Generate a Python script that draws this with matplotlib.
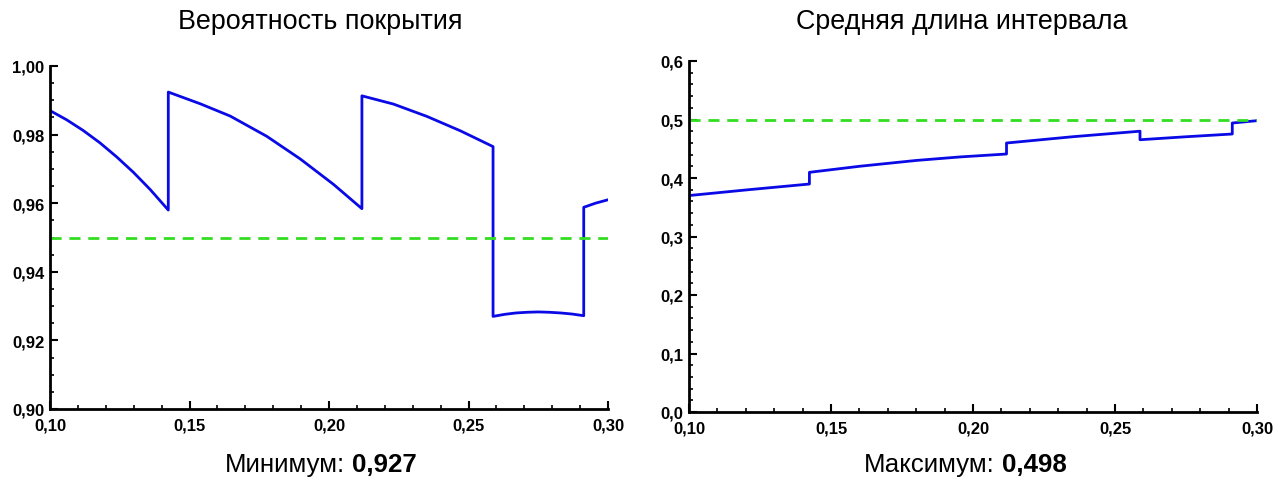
import matplotlib.pyplot as plt
from matplotlib.ticker import MultipleLocator, FuncFormatter

plt.rcParams['font.family'] = ['Liberation Sans', 'DejaVu Sans']

# coverage probability, piecewise between jumps
cov_x = [0.100, 0.1060, 0.1119, 0.1179, 0.1239, 0.1299, 0.1359, 0.1424,
         0.1424, 0.1538, 0.1646, 0.1777, 0.1897, 0.2016, 0.2118,
         0.2118, 0.2231, 0.2351, 0.2471, 0.2588,
         0.2588, 0.2630, 0.2670, 0.2710, 0.2750, 0.2790, 0.2830, 0.2870,
         0.2913,
         0.2913, 0.2955, 0.300]
cov_y = [0.9870, 0.9843, 0.9812, 0.9776, 0.9735, 0.9690, 0.9640, 0.9580,
         0.9924, 0.9890, 0.9854, 0.9795, 0.9729, 0.9655, 0.9584,
         0.9913, 0.9889, 0.9853, 0.9811, 0.9765,
         0.9270, 0.9276, 0.9280, 0.9282, 0.9283, 0.9282, 0.9280, 0.9277,
         0.9272,
         0.9588, 0.9600, 0.9610]

# mean interval length
len_x = [0.100, 0.121, 0.1424,
         0.1424, 0.160, 0.180, 0.1954, 0.2118,
         0.2118, 0.235, 0.2588,
         0.2588, 0.275, 0.2913,
         0.2913, 0.300]
len_y = [0.370, 0.380, 0.3897,
         0.4097, 0.420, 0.430, 0.436, 0.441,
         0.4598, 0.4705, 0.480,
         0.4654, 0.4705, 0.4752,
         0.494, 0.498]

cov_level = 0.95
len_level = 0.5
cov_min = 0.927
len_max = 0.498

BLUE = '#0a0ae6'
GREEN = '#33dd22'


def comma(fmt):
    return FuncFormatter(lambda v, p: (fmt % v).replace('.', ','))


def style_axes(ax, ymajor, yminor, yfmt):
    for s in ['top', 'right']:
        ax.spines[s].set_visible(False)
    for s in ['left', 'bottom']:
        ax.spines[s].set_linewidth(2)
    ax.set_xlim(0.10, 0.30)
    ax.xaxis.set_major_locator(MultipleLocator(0.05))
    ax.xaxis.set_minor_locator(MultipleLocator(0.01))
    ax.yaxis.set_major_locator(MultipleLocator(ymajor))
    ax.yaxis.set_minor_locator(MultipleLocator(yminor))
    ax.xaxis.set_major_formatter(comma('%.2f'))
    ax.yaxis.set_major_formatter(comma(yfmt))
    ax.tick_params(which='major', direction='in', length=6, width=1.5,
                   labelsize=12)
    ax.tick_params(axis='x', which='major', pad=6)
    ax.tick_params(axis='y', which='major', pad=4)
    ax.tick_params(which='minor', direction='in', length=3, width=1.2)
    for lab in ax.get_xticklabels() + ax.get_yticklabels():
        lab.set_fontweight('bold')


def caption(x_split, y, label, value):
    fig.text((x_split - 3) / 1286, 1 - y / 485, label, ha='right',
             va='center', fontsize=18.6)
    fig.text((x_split + 4) / 1286, 1 - y / 485,
             ('%.3f' % value).replace('.', ','), ha='left', va='center',
             fontsize=18.6, fontweight='bold')


fig = plt.figure(figsize=(12.86, 4.85), dpi=100)

ax1 = fig.add_axes([50 / 1286, 75 / 485, 558 / 1286, 343 / 485])
ax1.plot(cov_x, cov_y, color=BLUE, lw=2)
ax1.plot([0.10, 0.30], [cov_level, cov_level], color=GREEN, lw=2,
         linestyle=(0, (4, 2.8)))
ax1.set_ylim(0.90, 1.00)
style_axes(ax1, 0.02, 0.005, '%.2f')

ax2 = fig.add_axes([689 / 1286, 72 / 485, 568 / 1286, 351 / 485])
ax2.plot(len_x, len_y, color=BLUE, lw=2)
ax2.plot([0.10, 0.30], [len_level, len_level], color=GREEN, lw=2,
         linestyle=(0, (4, 2.8)))
ax2.set_ylim(0.0, 0.6)
style_axes(ax2, 0.1, 0.02, '%.1f')

fig.text(320 / 1286, 1 - 22 / 485, 'Вероятность покрытия', ha='center',
         va='center', fontsize=19.4)
fig.text(962 / 1286, 1 - 22 / 485, 'Средняя длина интервала', ha='center',
         va='center', fontsize=19.4)

caption(348, 465, 'Минимум:', cov_min)
caption(998, 465, 'Максимум:', len_max)

fig.savefig('out.png', dpi=100)
